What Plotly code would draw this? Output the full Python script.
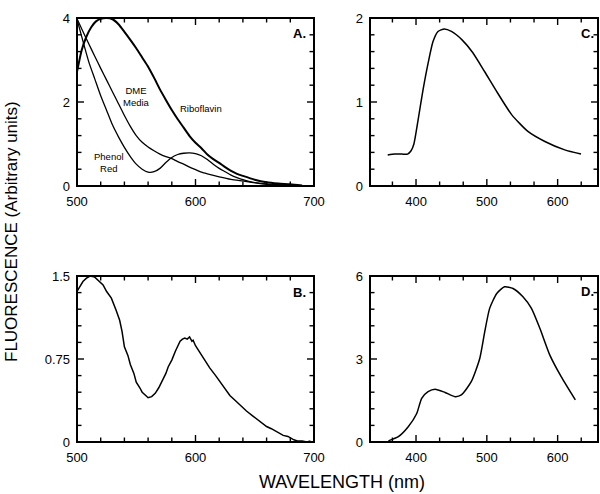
import plotly.graph_objects as go

# ---------------- data ----------------
# Panel A
a_ribo_x = [500, 504, 508, 512, 516, 520, 525, 530, 535, 540, 545, 550, 555, 560, 565, 570, 575, 580,
            585, 590, 595, 600, 605, 610, 615, 620, 625, 630, 635, 640, 650, 660, 670, 680, 690]
a_ribo_y = [2.72, 3.24, 3.56, 3.78, 3.92, 3.98, 4.0, 3.97, 3.85, 3.67, 3.48, 3.28, 3.06, 2.84, 2.58, 2.30, 2.05, 1.81,
            1.59, 1.39, 1.19, 1.03, 0.90, 0.75, 0.64, 0.55, 0.45, 0.36, 0.29, 0.24, 0.15, 0.09, 0.06, 0.04, 0.01]

a_dme_x = [500, 505, 510, 515, 520, 525, 530, 535, 540, 545, 550, 555, 560, 565, 570, 575, 580, 585, 590,
           595, 600, 605, 610, 620, 630, 640, 650, 660, 670, 680, 690]
a_dme_y = [3.98, 3.68, 3.38, 3.09, 2.80, 2.52, 2.24, 1.96, 1.68, 1.42, 1.20, 1.04, 0.93, 0.84, 0.76, 0.70, 0.65, 0.58, 0.52,
           0.45, 0.39, 0.33, 0.29, 0.22, 0.16, 0.12, 0.08, 0.05, 0.03, 0.015, 0.0]

a_phr_x = [500, 505, 510, 515, 520, 525, 530, 535, 540, 545, 550, 555, 560, 565, 570, 575, 580, 585, 590,
           595, 600, 605, 610, 615, 620, 625, 630, 635, 640, 650, 660, 670, 680, 690]
a_phr_y = [3.97, 3.45, 2.95, 2.55, 2.15, 1.80, 1.45, 1.17, 0.92, 0.70, 0.52, 0.40, 0.33, 0.34, 0.42, 0.56, 0.68, 0.75, 0.78,
           0.79, 0.77, 0.72, 0.63, 0.52, 0.42, 0.34, 0.26, 0.20, 0.15, 0.08, 0.04, 0.02, 0.01, 0.0]

# Panel B
b_x = [500, 505, 508, 511, 515, 519, 522, 525, 529, 533, 536, 538, 540, 543, 545, 548, 550, 553, 555, 558, 560,
       563, 566, 569, 572, 575, 577, 580, 583, 585, 587, 589, 591, 593, 595, 597, 598, 600, 604, 608, 612, 617,
       621, 625, 629, 634, 638, 643, 649, 655, 660, 664, 670, 674, 678, 683, 686, 690, 694, 697]
b_y = [1.36, 1.45, 1.48, 1.50, 1.49, 1.45, 1.42, 1.36, 1.30, 1.19, 1.10, 1.00, 0.86, 0.78, 0.70, 0.62, 0.54, 0.49, 0.45, 0.42, 0.40,
       0.41, 0.44, 0.49, 0.55, 0.62, 0.68, 0.74, 0.82, 0.86, 0.91, 0.93, 0.94, 0.93, 0.95, 0.91, 0.92, 0.87, 0.80, 0.74, 0.67, 0.60,
       0.54, 0.48, 0.42, 0.37, 0.33, 0.28, 0.23, 0.18, 0.14, 0.12, 0.08, 0.06, 0.05, 0.02, 0.01, 0.01, 0.0, 0.01]

# Panel C
c_x = [360, 370, 380, 388, 393, 397, 403, 410, 417, 424, 431, 440, 450, 465, 480, 497, 515, 535, 558, 582, 610, 633]
c_y = [0.37, 0.38, 0.38, 0.38, 0.42, 0.50, 0.79, 1.15, 1.46, 1.72, 1.84, 1.87, 1.84, 1.74, 1.59, 1.36, 1.11, 0.85, 0.65,
       0.53, 0.43, 0.38]

# Panel D
d_x = [361, 375, 389, 401, 408, 417, 427, 441, 455, 464, 478, 490, 497, 504, 514, 525, 537, 551, 563, 575, 589, 605, 625]
d_y = [0.04, 0.19, 0.55, 1.03, 1.58, 1.82, 1.91, 1.79, 1.64, 1.70, 2.18, 3.02, 3.98, 4.83, 5.37, 5.61, 5.55, 5.25, 4.83,
       4.10, 3.14, 2.36, 1.52]

# tick positions and labelled values
ab_xticks = [500, 520, 540, 560, 580, 600, 620, 640, 660, 680, 700]
ab_xlabels = [500, 600, 700]
cd_xticks = [366.67, 400, 433.33, 466.67, 500, 533.33, 566.67, 600, 633.33]
cd_xlabels = [400, 500, 600]
a_yticks = [0, 0.4, 0.8, 1.2, 1.6, 2, 2.4, 2.8, 3.2, 3.6, 4]
a_ylabels = [0, 2, 4]
b_yticks = [0, 0.15, 0.3, 0.45, 0.6, 0.75, 0.9, 1.05, 1.2, 1.35, 1.5]
b_ylabels = [0, 0.75, 1.5]
c_yticks = [0, 0.2, 0.4, 0.6, 0.8, 1, 1.2, 1.4, 1.6, 1.8, 2]
c_ylabels = [0, 1, 2]
d_yticks = [0, 0.6, 1.2, 1.8, 2.4, 3, 3.6, 4.2, 4.8, 5.4, 6]
d_ylabels = [0, 3, 6]

# ---------------- layout helpers ----------------
W, H = 600, 494
FONT = "Liberation Sans, Arial, Helvetica, sans-serif"


def px(x):
    return x / W


def py(y):
    return 1 - y / H


def fmt(v):
    return "%g" % v


def is_label(v, labels):
    return any(abs(v - l) < 1e-6 for l in labels)


fig = go.Figure()

fig.add_trace(go.Scatter(x=a_ribo_x, y=a_ribo_y, mode="lines", line=dict(color="black", width=2.0, shape="spline", smoothing=0.6),
                         xaxis="x", yaxis="y", showlegend=False, hoverinfo="skip"))
fig.add_trace(go.Scatter(x=a_dme_x, y=a_dme_y, mode="lines", line=dict(color="black", width=1.3, shape="spline", smoothing=0.6),
                         xaxis="x", yaxis="y", showlegend=False, hoverinfo="skip"))
fig.add_trace(go.Scatter(x=a_phr_x, y=a_phr_y, mode="lines", line=dict(color="black", width=1.3, shape="spline", smoothing=0.6),
                         xaxis="x", yaxis="y", showlegend=False, hoverinfo="skip"))
fig.add_trace(go.Scatter(x=b_x, y=b_y, mode="lines", line=dict(color="black", width=1.5),
                         xaxis="x2", yaxis="y2", showlegend=False, hoverinfo="skip"))
fig.add_trace(go.Scatter(x=c_x, y=c_y, mode="lines", line=dict(color="black", width=1.5, shape="spline", smoothing=0.6),
                         xaxis="x3", yaxis="y3", showlegend=False, hoverinfo="skip"))
fig.add_trace(go.Scatter(x=d_x, y=d_y, mode="lines", line=dict(color="black", width=1.5, shape="spline", smoothing=0.6),
                         xaxis="x4", yaxis="y4", showlegend=False, hoverinfo="skip"))


def common(dom, rng, ticks, labels, anchor, standoff):
    text = [fmt(t) if is_label(t, labels) else "" for t in ticks]
    return dict(domain=dom, range=rng, anchor=anchor, tickmode="array", tickvals=ticks, ticktext=text,
                ticks="", showline=False, showgrid=False, zeroline=False, automargin=False, fixedrange=True,
                tickfont=dict(family=FONT, size=13, color="black"), ticklabelstandoff=standoff)


XL = (77, 314)
XR = (370, 598)
YT = (18, 186)
YB = (276, 442)
xl = [px(XL[0]), px(XL[1])]
xr = [px(XR[0]), px(XR[1])]
yt = [py(YT[1]), py(YT[0])]
yb = [py(YB[1]), py(YB[0])]

fig.update_layout(
    template="none",
    width=W, height=H, autosize=False,
    margin=dict(l=0, r=0, t=0, b=0, pad=0, autoexpand=False),
    paper_bgcolor="white", plot_bgcolor="white",
    xaxis=common(xl, [500, 700], ab_xticks, ab_xlabels, "y", 6),
    yaxis=common(yt, [0, 4], a_yticks, a_ylabels, "x", 6),
    xaxis2=common(xl, [500, 700], ab_xticks, ab_xlabels, "y2", 6),
    yaxis2=common(yb, [0, 1.5], b_yticks, b_ylabels, "x2", 6),
    xaxis3=common(xr, [335, 657], cd_xticks, cd_xlabels, "y3", 6),
    yaxis3=common(yt, [0, 2], c_yticks, c_ylabels, "x3", 6),
    xaxis4=common(xr, [335, 657], cd_xticks, cd_xlabels, "y4", 6),
    yaxis4=common(yb, [0, 6], d_yticks, d_ylabels, "x4", 6),
    font=dict(family=FONT, color="black"),
    showlegend=False,
    dragmode=False,
    hovermode=False,
)

# frames drawn as thin filled bars (paper coordinates of the panel boxes),
# plus inside ticks mirrored on all four sides, placed through the axes
shapes = []
panels = [("x", "y", XL, YT, ab_xticks, ab_xlabels, a_yticks, a_ylabels),
          ("x2", "y2", XL, YB, ab_xticks, ab_xlabels, b_yticks, b_ylabels),
          ("x3", "y3", XR, YT, cd_xticks, cd_xlabels, c_yticks, c_ylabels),
          ("x4", "y4", XR, YB, cd_xticks, cd_xlabels, d_yticks, d_ylabels)]
T = 1.0  # half thickness of the frame bars, px
for xa, ya, (x0p, x1p), (y0p, y1p), xt, xlab, ytk, ylab in panels:
    bars = [(x0p - T, y0p - T, x1p + T, y0p + T),   # top
            (x0p - T, y1p - T, x1p + T, y1p + T),   # bottom
            (x0p - T, y0p - T, x0p + T, y1p + T),   # left
            (x1p - T, y0p - T, x1p + T, y1p + T)]   # right
    for (bx0, by0, bx1, by1) in bars:
        shapes.append(dict(type="rect", xref="paper", yref="paper", x0=px(bx0), x1=px(bx1), y0=py(by1), y1=py(by0),
                           fillcolor="black", line=dict(width=0), layer="above"))
    for v in xt:
        L = 7 if is_label(v, xlab) else 4.5
        for a, b in [(y1p, y1p - L), (y0p, y0p + L)]:
            shapes.append(dict(type="line", xref=xa, yref="paper", x0=v, x1=v, y0=py(a), y1=py(b),
                               line=dict(color="black", width=1.4), layer="above"))
    for v in ytk:
        L = 7 if is_label(v, ylab) else 4.5
        for a, b in [(x0p, x0p + L), (x1p, x1p - L)]:
            shapes.append(dict(type="line", xref="paper", yref=ya, x0=px(a), x1=px(b), y0=v, y1=v,
                               line=dict(color="black", width=1.4), layer="above"))
fig.update_layout(shapes=shapes)

ann = []
# panel letters
for lab, x, y in [("A.", 299, 33), ("B.", 299, 292), ("C.", 587, 33), ("D.", 587, 291)]:
    ann.append(dict(text="<b>%s</b>" % lab, x=px(x), y=py(y), xref="paper", yref="paper", showarrow=False,
                    font=dict(family=FONT, size=13, color="black"), xanchor="center", yanchor="middle"))
# curve labels in panel A
for lab, x, y in [("DME<br>Media", 136, 96), ("Riboflavin", 201, 108), ("Phenol<br>Red", 109, 163)]:
    ann.append(dict(text=lab, x=px(x), y=py(y), xref="paper", yref="paper", showarrow=False,
                    font=dict(family=FONT, size=9.5, color="black"), xanchor="center", yanchor="middle"))
# axis titles
ann.append(dict(text="WAVELENGTH (nm)", x=px(342), y=py(482), xref="paper", yref="paper", showarrow=False,
                font=dict(family=FONT, size=18, color="black"), xanchor="center", yanchor="middle"))
ann.append(dict(text="FLUORESCENCE (Arbitrary units)", x=px(11), y=py(232), xref="paper", yref="paper",
                showarrow=False, textangle=-90,
                font=dict(family=FONT, size=17, color="black"), xanchor="center", yanchor="middle"))
fig.update_layout(annotations=ann)

# remove the page's default body margin so the 600x494 figure fills the window exactly
fig.write_html("out.html", config={"displayModeBar": False, "staticPlot": True},
               post_script="document.body.style.margin='0';document.body.style.overflow='hidden';")
